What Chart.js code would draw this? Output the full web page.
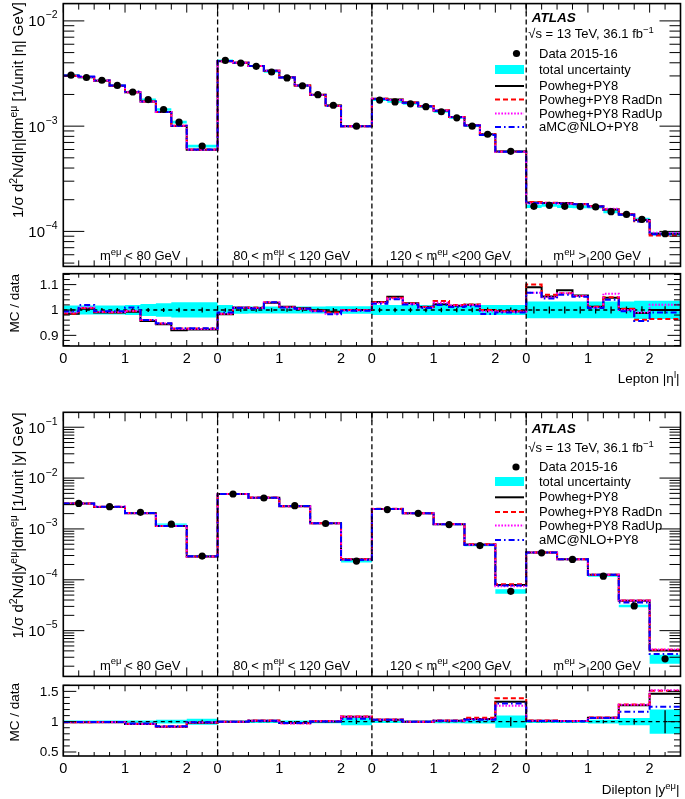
<!DOCTYPE html>
<html><head><meta charset="utf-8">
<script src="https://cdn.jsdelivr.net/npm/chart.js"></script>
<style>
html,body{margin:0;padding:0;background:#fff;}
#wrap{position:relative;width:685px;height:799px;overflow:hidden;background:#fff;}
canvas{position:absolute;left:0;}
</style></head><body>
<div id="wrap">
<canvas id="c1" width="685" height="270" style="top:0px"></canvas>
<canvas id="c2" width="685" height="130" style="top:270px"></canvas>
<canvas id="c3" width="685" height="280" style="top:400px"></canvas>
<canvas id="c4" width="685" height="119" style="top:680px"></canvas>
</div>
<script>
// ================= DATA =================
const N_REGIONS = 4;
const REGION_SPAN = 2.5;               // each mass region spans |eta| or |y| 0..2.5
const xTickLocal = [0, 1, 2];
const xTickText = ['0', '1', '2'];
const massRegionText = [
  [{t:'m'},{t:'eμ',sup:1},{t:' < 80 GeV'}],
  [{t:'80 < m'},{t:'eμ',sup:1},{t:' < 120 GeV'}],
  [{t:'120 < m'},{t:'eμ',sup:1},{t:' <200 GeV'}],
  [{t:'m'},{t:'eμ',sup:1},{t:' > 200 GeV'}]
];
const legendText = ['Data 2015-16','total uncertainty','Powheg+PY8','Powheg+PY8 RadDn','Powheg+PY8 RadUp','aMC@NLO+PY8'];

// ---- Lepton |eta| ----
const etaBinEdges = [0, 0.25, 0.5, 0.75, 1.0, 1.25, 1.5, 1.75, 2.0, 2.5];
const etaData = [
  3.05e-3, 2.90e-3, 2.73e-3, 2.44e-3, 2.11e-3, 1.79e-3, 1.44e-3, 1.09e-3, 6.46e-4,
  4.21e-3, 3.97e-3, 3.70e-3, 3.27e-3, 2.87e-3, 2.42e-3, 1.99e-3, 1.58e-3, 1.00e-3,
  1.77e-3, 1.70e-3, 1.63e-3, 1.53e-3, 1.37e-3, 1.20e-3, 1.00e-3, 8.38e-4, 5.76e-4,
  1.73e-4, 1.77e-4, 1.73e-4, 1.72e-4, 1.71e-4, 1.54e-4, 1.45e-4, 1.30e-4, 9.5e-5];
const etaTotUnc = [
  0.018, 0.018, 0.018, 0.018, 0.020, 0.024, 0.027, 0.030, 0.030,
  0.020, 0.015, 0.014, 0.014, 0.014, 0.014, 0.014, 0.015, 0.015,
  0.020, 0.020, 0.020, 0.020, 0.020, 0.020, 0.020, 0.020, 0.020,
  0.033, 0.033, 0.033, 0.033, 0.033, 0.033, 0.033, 0.036, 0.036];
const etaStatUnc = [
  0.008, 0.008, 0.008, 0.008, 0.008, 0.008, 0.008, 0.009, 0.010,
  0.007, 0.007, 0.007, 0.007, 0.007, 0.007, 0.007, 0.008, 0.008,
  0.009, 0.009, 0.009, 0.009, 0.009, 0.009, 0.009, 0.010, 0.010,
  0.014, 0.014, 0.014, 0.014, 0.014, 0.014, 0.014, 0.015, 0.015];
const etaRatioPowheg = [
  0.985, 1.005, 0.990, 0.990, 0.993, 0.957, 0.944, 0.920, 0.923,
  0.983, 1.009, 1.008, 1.028, 1.013, 1.007, 0.999, 0.993, 1.000,
  1.031, 1.052, 1.027, 1.012, 1.023, 1.017, 1.021, 1.000, 0.995,
  1.090, 1.053, 1.078, 1.057, 1.013, 1.048, 1.004, 0.988, 1.000];
const etaRatioRadDn = [
  0.985, 1.008, 0.992, 0.990, 0.995, 0.960, 0.947, 0.927, 0.927,
  0.985, 1.010, 1.010, 1.030, 1.012, 1.005, 0.997, 0.990, 1.000,
  1.030, 1.048, 1.027, 1.013, 1.035, 1.020, 1.022, 1.000, 0.995,
  1.100, 1.060, 1.066, 1.055, 1.013, 1.050, 1.005, 0.961, 0.964];
const etaRatioRadUp = [
  0.990, 1.010, 0.993, 0.992, 0.997, 0.960, 0.947, 0.925, 0.925,
  0.985, 1.010, 1.008, 1.030, 1.010, 1.005, 0.995, 0.985, 0.998,
  1.028, 1.045, 1.025, 1.010, 1.028, 1.018, 1.020, 0.995, 0.993,
  1.068, 1.050, 1.066, 1.055, 1.010, 1.064, 1.000, 0.990, 1.021];
const etaRatioAmc = [
  0.995, 1.020, 0.995, 0.995, 1.010, 0.960, 0.948, 0.928, 0.928,
  0.990, 1.008, 1.006, 1.030, 1.010, 1.005, 0.995, 0.983, 0.997,
  1.025, 1.042, 1.022, 1.008, 1.020, 1.012, 1.015, 0.984, 0.990,
  1.068, 1.045, 1.060, 1.052, 1.008, 1.040, 0.995, 0.957, 0.990];

// ---- Dilepton |y| ----
const yBinEdges = [0, 0.5, 1.0, 1.5, 2.0, 2.5];
const yData = [
  3.18e-3, 2.74e-3, 2.12e-3, 1.24e-3, 2.92e-4,
  4.86e-3, 4.06e-3, 2.87e-3, 1.28e-3, 2.33e-4,
  2.40e-3, 2.03e-3, 1.22e-3, 4.71e-4, 5.93e-5,
  3.39e-4, 2.51e-4, 1.18e-4, 3.06e-5, 2.79e-6];
const yTotUnc = [
  0.020, 0.020, 0.020, 0.030, 0.050,
  0.020, 0.020, 0.020, 0.025, 0.060,
  0.020, 0.020, 0.025, 0.030, 0.100,
  0.020, 0.020, 0.030, 0.060, 0.200];
const yStatUnc = [
  0.010, 0.010, 0.010, 0.015, 0.030,
  0.010, 0.010, 0.010, 0.015, 0.040,
  0.010, 0.010, 0.015, 0.020, 0.075,
  0.015, 0.015, 0.025, 0.045, 0.190];
const yRatioPowheg = [
  0.990, 0.990, 0.962, 0.918, 0.984,
  1.000, 1.016, 0.978, 1.005, 1.082,
  1.033, 1.000, 1.016, 1.044, 1.330,
  1.016, 1.011, 1.066, 1.270, 1.460];
const yRatioRadDn = [
  0.992, 0.995, 0.965, 0.920, 0.988,
  1.000, 1.018, 0.975, 1.010, 1.085,
  1.035, 1.000, 1.020, 1.066, 1.385,
  1.018, 1.012, 1.070, 1.285, 1.510];
const yRatioRadUp = [
  0.990, 0.992, 0.962, 0.918, 0.985,
  1.000, 1.016, 0.970, 1.008, 1.080,
  1.030, 0.998, 1.015, 1.040, 1.264,
  1.015, 1.010, 1.065, 1.280, 1.520];
const yRatioAmc = [
  0.995, 0.995, 0.968, 0.925, 0.990,
  1.000, 1.015, 0.980, 1.005, 1.050,
  1.030, 1.000, 1.016, 1.030, 1.300,
  1.012, 1.008, 1.060, 1.165, 1.247];

const ratioTicksTop = [0.9, 1.0, 1.1];
const ratioTickTextTop = ['0.9', '1', '1.1'];
const ratioTicksBot = [0.5, 1.0, 1.5];
const ratioTickTextBot = ['0.5', '1', '1.5'];

// ================= STYLES / HELPERS =================
const FONT = '"Liberation Sans", Arial, Helvetica, sans-serif';
const CYAN = '#00ffff';
const mcStyles = [
  {color:'#000000', dash:[], order:5},
  {color:'#ff0000', dash:[5,3], order:4},
  {color:'#ff00ff', dash:[1.6,1.6], order:3},
  {color:'#0000ff', dash:[6,3,1.6,3], order:2}
];

function setFont(ctx, size, style){ ctx.font = (style ? style + ' ' : '') + size + 'px ' + FONT; }
function drawRich(ctx, segs, x, y, size, supSize, rise, align, style){
  let w = 0;
  for (const s of segs){ setFont(ctx, s.sup ? supSize : size, style); w += ctx.measureText(s.t).width; }
  let cx = align === 'right' ? x - w : (align === 'center' ? x - w/2 : x);
  ctx.textAlign = 'left'; ctx.textBaseline = 'alphabetic';
  for (const s of segs){
    setFont(ctx, s.sup ? supSize : size, style);
    ctx.fillText(s.t, cx, s.sup ? y - rise : y);
    cx += ctx.measureText(s.t).width;
  }
  return w;
}
function seg(ctx, x1, y1, x2, y2){ ctx.beginPath(); ctx.moveTo(x1,y1); ctx.lineTo(x2,y2); ctx.stroke(); }

function stepPoints(edges, vals){
  const pts = [], nb = edges.length - 1;
  for (let r = 0; r < N_REGIONS; r++) for (let i = 0; i < nb; i++){
    const v = vals[r*nb + i], off = r*REGION_SPAN;
    pts.push({x: off + edges[i], y: v}, {x: off + edges[i+1], y: v});
  }
  return pts;
}
function centerPoints(edges, vals){
  const pts = [], nb = edges.length - 1;
  for (let r = 0; r < N_REGIONS; r++) for (let i = 0; i < nb; i++)
    pts.push({x: r*REGION_SPAN + (edges[i] + edges[i+1])/2, y: vals[r*nb + i]});
  return pts;
}
function errorBarPoints(edges, errs){
  const pts = [], nb = edges.length - 1;
  for (let r = 0; r < N_REGIONS; r++) for (let i = 0; i < nb; i++){
    const c = r*REGION_SPAN + (edges[i] + edges[i+1])/2, e = errs[r*nb + i];
    pts.push({x:c, y:1-e}, {x:c, y:1+e}, {x:c, y:null});
  }
  return pts;
}
function lineDs(pts, color, width, dash, order, extra){
  return Object.assign({data: pts, borderColor: color, borderWidth: width, borderDash: dash,
    pointRadius: 0, fill: false, tension: 0, order: order}, extra || {});
}

// ================= PANEL PLUGIN =================
function framePlugin(p){
  return {
    id: 'rootframe',
    afterDatasetsDraw(chart){
      const ctx = chart.ctx, a = chart.chartArea, xs = chart.scales.x, ys = chart.scales.y;
      ctx.save();
      ctx.strokeStyle = '#000'; ctx.fillStyle = '#000';
      // region separators
      ctx.lineWidth = 1.3; ctx.setLineDash([5, 3]);
      for (let r = 1; r < N_REGIONS; r++){
        const px = xs.getPixelForValue(r*REGION_SPAN);
        seg(ctx, px, a.top, px, a.bottom);
      }
      ctx.setLineDash([]);
      // x ticks (top and bottom, inward)
      ctx.lineWidth = 1;
      const nMinor = Math.round(REGION_SPAN / 0.25);
      for (let r = 0; r < N_REGIONS; r++) for (let k = 0; k <= nMinor; k++){
        const local = k*0.25;
        const major = xTickLocal.indexOf(local) >= 0;
        const len = major ? p.xMajor : p.xMinor;
        const px = xs.getPixelForValue(r*REGION_SPAN + local);
        seg(ctx, px, a.bottom, px, a.bottom - len);
        seg(ctx, px, a.top, px, a.top + len);
      }
      // y ticks
      if (p.log){
        const lo = Math.log10(ys.min), hi = Math.log10(ys.max);
        for (let d = Math.floor(lo); d <= Math.ceil(hi); d++) for (let m = 1; m <= 9; m++){
          const v = m*Math.pow(10, d);
          if (v < ys.min || v > ys.max) continue;
          const py = ys.getPixelForValue(v), len = (m === 1) ? 21 : 11;
          seg(ctx, a.left, py, a.left + len, py);
          seg(ctx, a.right, py, a.right - len, py);
          if (m === 1){
            const ex = '\u2212' + (-d);
            setFont(ctx, 10.5); const ew = ctx.measureText(ex).width;
            ctx.textAlign = 'left'; ctx.textBaseline = 'alphabetic';
            ctx.fillText(ex, 57.5 - ew, py - 2.5);
            setFont(ctx, 15); ctx.textAlign = 'right';
            ctx.fillText('10', 57.5 - ew - 0.5, py + 5.4);
          }
        }
      } else {
        const n0 = Math.ceil(ys.min/p.yMinorStep - 1e-6), n1 = Math.floor(ys.max/p.yMinorStep + 1e-6);
        for (let n = n0; n <= n1; n++){
          const v = +(n*p.yMinorStep).toFixed(4);
          const mi = p.yMajorVals.findIndex(t => Math.abs(t - v) < 1e-6);
          const py = ys.getPixelForValue(v), len = mi >= 0 ? 13 : 6.5;
          seg(ctx, a.left, py, a.left + len, py);
          seg(ctx, a.right, py, a.right - len, py);
          if (mi >= 0){
            setFont(ctx, 13.5); ctx.textAlign = 'right'; ctx.textBaseline = 'middle';
            ctx.fillText(p.yMajorText[mi], 58.5, py + 0.5);
          }
        }
      }
      // frame
      ctx.lineWidth = 1.6;
      ctx.strokeRect(a.left, a.top, a.right - a.left, a.bottom - a.top);
      // texts
      ctx.fillStyle = '#000';
      if (p.texts) p.texts(ctx, chart);
      ctx.restore();
    }
  };
}

function drawLegend(ctx, L){
  ctx.fillStyle = '#000';
  setFont(ctx, 13.5, 'italic bold'); ctx.textAlign = 'left'; ctx.textBaseline = 'middle';
  ctx.fillText('ATLAS', L.atlasX, L.atlasY);
  ctx.textBaseline = 'alphabetic';
  drawRich(ctx, [{t:'\u221As = 13 TeV, 36.1 fb'},{t:'\u22121',sup:1}], L.sqrtX, L.sqrtY + 4.7, 13, 9.5, 5, 'left');
  // symbols
  const x0 = 495, x1 = 524;
  ctx.beginPath(); ctx.arc(L.markX, L.rows[0], 3.6, 0, 2*Math.PI); ctx.fill();
  ctx.fillStyle = CYAN; ctx.fillRect(x0, L.rows[1] - 4.5, x1 - x0, 9);
  for (let i = 0; i < 4; i++){
    const s = mcStyles[i];
    ctx.strokeStyle = s.color; ctx.lineWidth = 2; ctx.setLineDash(s.dash);
    seg(ctx, x0, L.rows[2+i], x1, L.rows[2+i]);
  }
  ctx.setLineDash([]);
  ctx.fillStyle = '#000'; setFont(ctx, 13); ctx.textAlign = 'left'; ctx.textBaseline = 'middle';
  for (let i = 0; i < legendText.length; i++) ctx.fillText(legendText[i], 539, L.rows[i] + 0.5);
}

function drawRegionLabels(ctx, baseY){
  const xs = [100, 233.3, 390, 553.3];
  ctx.fillStyle = '#000';
  for (let r = 0; r < N_REGIONS; r++) drawRich(ctx, massRegionText[r], xs[r], baseY, 13, 9.5, 5.5, 'left');
}
function drawRotated(ctx, segs, x, yEnd, size, supSize, rise){
  ctx.save(); ctx.translate(x, yEnd); ctx.rotate(-Math.PI/2);
  drawRich(ctx, segs, 0, 0, size, supSize, rise, 'right');
  ctx.restore();
}

// ================= CHART BUILDERS =================
function mainChart(id, edges, data, unc, ratios, yMin, yMax, pad, texts){
  const up = data.map((d,i) => d*(1 + unc[i]));
  const dn = data.map((d,i) => d*(1 - unc[i]));
  const ds = [
    lineDs(stepPoints(edges, up), 'rgba(0,0,0,0)', 0, [], 10, {fill: '+1', backgroundColor: CYAN}),
    lineDs(stepPoints(edges, dn), 'rgba(0,0,0,0)', 0, [], 11)
  ];
  ratios.forEach((rat, k) => {
    const mc = data.map((d,i) => d*rat[i]);
    ds.push(lineDs(stepPoints(edges, mc), mcStyles[k].color, 2, mcStyles[k].dash, mcStyles[k].order));
  });
  ds.push({data: centerPoints(edges, data), showLine: false, pointRadius: 3.6, pointHoverRadius: 3.6,
    pointBackgroundColor: '#000', pointBorderWidth: 0, borderColor: '#000', order: 0});
  return new Chart(document.getElementById(id), {
    type: 'line',
    data: {datasets: ds},
    options: {
      responsive: false, animation: false, devicePixelRatio: 1, events: [],
      layout: {padding: pad},
      plugins: {legend: {display: false}, tooltip: {enabled: false}},
      scales: {
        x: {type: 'linear', min: 0, max: N_REGIONS*REGION_SPAN, display: false},
        y: {type: 'logarithmic', min: yMin, max: yMax, display: false}
      }
    },
    plugins: [framePlugin({log: true, xMajor: 9, xMinor: 6, texts: texts})]
  });
}

function ratioChart(id, edges, unc, stat, ratios, yMin, yMax, pad, axisH, yMajorVals, yMajorText, yMinorStep, texts){
  const ds = [
    lineDs(stepPoints(edges, unc.map(u => 1 + u)), 'rgba(0,0,0,0)', 0, [], 10, {fill: '+1', backgroundColor: CYAN}),
    lineDs(stepPoints(edges, unc.map(u => 1 - u)), 'rgba(0,0,0,0)', 0, [], 11),
    lineDs([{x:0, y:1}, {x:N_REGIONS*REGION_SPAN, y:1}], '#000', 1.3, [4, 3.5], 8),
    lineDs(errorBarPoints(edges, stat), '#000', 1.3, [], 7, {spanGaps: false})
  ];
  ratios.forEach((rat, k) => {
    ds.push(lineDs(stepPoints(edges, rat), mcStyles[k].color, 2, mcStyles[k].dash, mcStyles[k].order));
  });
  const tickVals = [];
  for (let r = 0; r < N_REGIONS; r++) xTickLocal.forEach(t => tickVals.push(r*REGION_SPAN + t));
  return new Chart(document.getElementById(id), {
    type: 'line',
    data: {datasets: ds},
    options: {
      responsive: false, animation: false, devicePixelRatio: 1, events: [],
      layout: {padding: pad},
      plugins: {legend: {display: false}, tooltip: {enabled: false}},
      scales: {
        x: {type: 'linear', min: 0, max: N_REGIONS*REGION_SPAN, position: 'bottom',
            grid: {display: false, drawTicks: false}, border: {display: false},
            afterBuildTicks: s => { s.ticks = tickVals.map(v => ({value: v})); },
            afterFit: s => { s.height = axisH; },
            ticks: {autoSkip: false, maxRotation: 0, minRotation: 0, padding: 4, color: '#000',
                    font: {family: FONT, size: 14.5},
                    callback: (v, i) => xTickText[i % xTickLocal.length]}},
        y: {type: 'linear', min: yMin, max: yMax, display: false}
      }
    },
    plugins: [framePlugin({log: false, xMajor: 6, xMinor: 4, yMajorVals, yMajorText, yMinorStep, texts})]
  });
}

// ---- top: lepton |eta| ----
mainChart('c1', etaBinEdges, etaData, etaTotUnc,
  [etaRatioPowheg, etaRatioRadDn, etaRatioRadUp, etaRatioAmc],
  4.65e-5, 0.0146, {top: 1.5, bottom: 2.3, left: 63.3, right: 4.5},
  (ctx) => {
    drawRotated(ctx, [{t:'1/σ d'},{t:'2',sup:1},{t:'N/d|η|dm'},{t:'eμ',sup:1},{t:' [1/unit |η| GeV]'}], 22.5, 2, 15, 10.5, 6);
    drawRegionLabels(ctx, 260);
    drawLegend(ctx, {atlasX: 531.7, atlasY: 18.3, sqrtX: 528.3, sqrtY: 33.3, markX: 516.5,
      rows: [53.5, 69.5, 86, 99.5, 113.5, 127]});
  });

ratioChart('c2', etaBinEdges, etaTotUnc, etaStatUnc,
  [etaRatioPowheg, etaRatioRadDn, etaRatioRadUp, etaRatioAmc],
  0.858, 1.143, {top: 3.7, bottom: 0, left: 63.3, right: 4.5}, 54,
  ratioTicksTop, ratioTickTextTop, 0.02,
  (ctx) => {
    drawRotated(ctx, [{t:'MC / data'}], 18.5, 4, 13.5, 10, 5);
    drawRich(ctx, [{t:'Lepton |η'},{t:'l',sup:1},{t:'|'}], 679.5, 113, 13.5, 9.5, 5.5, 'right');
  });

// ---- bottom: dilepton |y| ----
mainChart('c3', yBinEdges, yData, yTotUnc,
  [yRatioPowheg, yRatioRadDn, yRatioRadUp, yRatioAmc],
  1.26e-6, 0.1965, {top: 12.3, bottom: 2.3, left: 63.3, right: 4.5},
  (ctx) => {
    drawRotated(ctx, [{t:'1/σ d'},{t:'2',sup:1},{t:'N/d|y'},{t:'eμ',sup:1},{t:'|dm'},{t:'eμ',sup:1},{t:' [1/unit |y| GeV]'}], 22.5, 12.3, 15, 10.5, 6);
    drawRegionLabels(ctx, 269.5);
    drawLegend(ctx, {atlasX: 531.7, atlasY: 29.3, sqrtX: 528.3, sqrtY: 47.3, markX: 516,
      rows: [67, 81.5, 97.3, 112, 125.5, 140]});
  });

ratioChart('c4', yBinEdges, yTotUnc, yStatUnc,
  [yRatioPowheg, yRatioRadDn, yRatioRadUp, yRatioAmc],
  0.434, 1.6, {top: 5.3, bottom: 0, left: 63.3, right: 4.5}, 43,
  ratioTicksBot, ratioTickTextBot, 0.1,
  (ctx) => {
    drawRotated(ctx, [{t:'MC / data'}], 18.5, 3, 13.5, 10, 5);
    drawRich(ctx, [{t:'Dilepton |y'},{t:'eμ',sup:1},{t:'|'}], 679.5, 114, 13.5, 9.5, 5.5, 'right');
  });
</script>
</body></html>
